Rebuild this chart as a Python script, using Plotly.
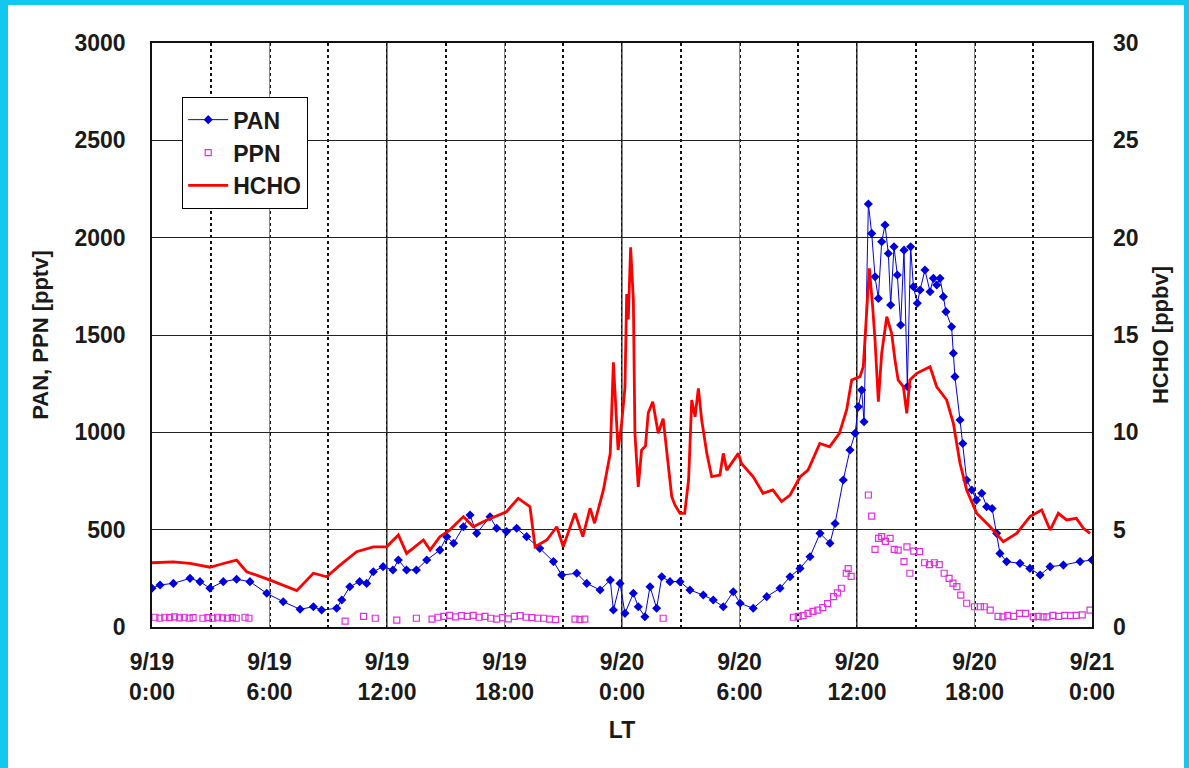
import plotly.graph_objects as go

# ---------------- data (hours after 9/19 0:00 LT) ----------------
hcho_hours = [
    0, 1.09, 1.94, 2.96, 3.6, 4.32, 4.83, 6.03, 7.39, 8.24,
    8.92, 9.6, 10.45, 11.3, 11.98, 12.58, 13.0, 13.86, 14.2, 14.7,
    15.2, 15.9, 16.4, 17.1, 18.1, 18.7, 19.3, 19.56, 20.16, 20.67,
    21.0, 21.6, 22.0, 22.37, 22.6, 23.05, 23.4, 23.56, 23.8, 23.98,
    24.15, 24.24, 24.32, 24.44, 24.58, 24.66, 24.83, 25.0, 25.2, 25.34,
    25.57, 25.85, 26.1, 26.28, 26.54, 26.7, 26.96, 27.2, 27.4, 27.56,
    27.73, 27.9, 28.07, 28.33, 28.58, 29.0, 29.17, 29.35, 29.94, 30.1,
    30.7, 31.2, 31.7, 32.15, 32.58, 33.1, 33.5, 34.1, 34.6, 35.1,
    35.47, 35.73, 36.15, 36.32, 36.5, 36.63, 36.8, 36.92, 37.09, 37.26,
    37.52, 37.77, 37.94, 38.1, 38.37, 38.54, 38.7, 39.05, 39.73, 40.07,
    40.58, 40.92, 41.26, 41.6, 42.11, 42.8, 43.47, 44.15, 44.83, 45.43,
    45.86, 46.28, 46.7, 47.2, 47.56, 47.9,
]
hcho_ppbv = [
    3.3, 3.35, 3.27, 3.07, 3.25, 3.44, 2.84, 2.41, 1.87, 2.76,
    2.58, 3.18, 3.87, 4.12, 4.12, 4.73, 3.78, 4.47, 3.95, 4.64,
    4.98, 5.67, 5.15, 5.5, 5.92, 6.61, 6.18, 4.12, 4.47, 5.15,
    4.12, 5.84, 4.64, 6.1, 5.33, 7.04, 8.92, 13.6, 9.09, 10.46,
    12.3, 17.1, 15.8, 19.5, 16.8, 9.95, 7.2, 9.09, 9.3, 11.0,
    11.57, 9.95, 10.7, 8.92, 6.69, 6.27, 5.84, 5.84, 7.55, 11.66,
    10.8, 12.26, 10.63, 8.92, 7.72, 7.8, 8.92, 8.06, 8.92, 8.4,
    7.72, 6.87, 7.04, 6.44, 6.78, 7.72, 8.06, 9.43, 9.26, 9.95,
    11.15, 12.69, 12.86, 13.37, 16.28, 18.42, 16.45, 14.74, 11.57, 14.06,
    15.94, 15.08, 13.71, 12.69, 12.34, 10.97, 12.69, 13.03, 13.37, 12.34,
    11.66, 10.46, 8.41, 7.04, 5.84, 5.15, 4.38, 4.81, 5.67, 6.01,
    4.98, 5.84, 5.5, 5.58, 5.07, 4.81,
]

pan_hours = [
    0, 0.41, 1.09, 1.94, 2.45, 2.96, 3.64, 4.32, 5.0, 5.86,
    6.7, 7.56, 8.24, 8.66, 9.43, 9.69, 10.1, 10.6, 10.96, 11.3,
    11.8, 12.3, 12.58, 13.0, 13.5, 14.03, 14.7, 15.05, 15.4, 15.9,
    16.24, 16.58, 17.26, 17.6, 18.1, 18.62, 19.13, 19.8, 20.5, 20.92,
    21.69, 22.2, 22.88, 23.4, 23.56, 23.9, 24.15, 24.58, 24.83, 25.17,
    25.43, 25.77, 26.03, 26.45, 26.96, 27.47, 28.15, 28.66, 29.17, 29.68,
    30.03, 30.7, 31.39, 32.07, 32.58, 33.09, 33.6, 34.11, 34.62, 34.88,
    35.3, 35.64, 35.9, 36.07, 36.24, 36.36, 36.58, 36.75, 36.92, 37.09,
    37.26, 37.43, 37.6, 37.72, 37.89, 38.06, 38.23, 38.4, 38.57, 38.74,
    38.88, 39.08, 39.22, 39.47, 39.73, 39.9, 40.07, 40.24, 40.41, 40.54,
    40.83, 40.92, 41.0, 41.26, 41.4, 41.6, 41.86, 42.1, 42.37, 42.62,
    42.9, 43.13, 43.3, 43.64, 44.32, 44.83, 45.35, 45.86, 46.54, 47.39,
    48,
]
pan_pptv = [
    199, 216, 224, 250, 233, 199, 233, 245, 233, 173,
    130, 91, 104, 87, 96, 139, 207, 233, 224, 284,
    310, 293, 344, 293, 293, 344, 395, 464, 430, 515,
    575, 481, 566, 507, 490, 507, 464, 404, 336, 267,
    276, 224, 190, 241, 87, 224, 70, 173, 104, 53,
    207, 96, 258, 233, 233, 190, 164, 139, 104, 181,
    122, 96, 156, 199, 258, 301, 361, 481, 430, 532,
    755, 909, 995, 1131, 1217, 1054, 2173, 2022, 1799, 1688,
    1979, 2065, 1919, 1654, 1953, 1808, 1551, 1936, 1234, 1953,
    1748, 1663, 1731, 1834, 1722, 1791, 1757, 1791, 1697, 1620,
    1542, 1406, 1286, 1063, 943, 755, 704, 652, 687, 618,
    609, 481, 378, 336, 327, 301, 267, 310, 318, 336,
    344,
]

ppn_hours = [
    0.15, 0.4, 0.65, 0.9, 1.15, 1.4, 1.65, 1.9, 2.1, 2.6,
    2.85, 3.1, 3.35, 3.6, 3.85, 4.1, 4.3, 4.75, 4.95, 9.86,
    10.8, 11.4, 12.5, 13.5, 14.3, 14.6, 14.9, 15.2, 15.5, 15.8,
    16.1, 16.4, 16.7, 17.0, 17.3, 17.6, 17.9, 18.2, 18.5, 18.8,
    19.1, 19.4, 19.7, 20.0, 20.3, 20.6, 21.6, 21.85, 22.1, 26.1,
    32.75, 33.0, 33.25, 33.5, 33.75, 34.0, 34.25, 34.5, 34.8, 35.0,
    35.2, 35.45, 35.55, 35.7, 36.58, 36.75, 36.92, 37.1, 37.26, 37.45,
    37.69, 37.9, 38.1, 38.4, 38.55, 38.7, 38.9, 39.2, 39.45, 39.7,
    39.95, 40.2, 40.45, 40.7, 40.9, 41.1, 41.3, 41.6, 42.0, 42.3,
    42.5, 42.8, 43.2, 43.45, 43.7, 44.0, 44.3, 44.6, 45.0, 45.25,
    45.5, 45.7, 46.0, 46.3, 46.6, 46.9, 47.2, 47.5, 47.9,
]
ppn_pptv = [
    50, 45, 50, 48, 52, 47, 50, 45, 48, 45,
    48, 45, 50, 47, 45, 48, 45, 50, 45, 30,
    55, 45, 35, 45, 40, 50, 55, 60, 52, 58,
    55, 60, 50, 55, 45, 40, 48, 42, 55, 58,
    50, 48, 45, 45, 40, 38, 40, 38, 40, 45,
    50, 55, 58, 70, 80, 87, 100, 120, 156, 175,
    199, 276, 300, 260, 678, 570, 399, 455, 464, 440,
    455, 399, 395, 336, 412, 276, 390, 387, 330, 320,
    330, 320, 276, 250, 225, 207, 164, 122, 104, 104,
    104, 87, 55, 52, 60, 55, 70, 70, 52, 55,
    52, 52, 60, 55, 60, 58, 60, 62, 87,
]

tick_hours = [0, 6, 12, 18, 24, 30, 36, 42, 48]
tick_labels = ["9/19<br>0:00", "9/19<br>6:00", "9/19<br>12:00", "9/19<br>18:00",
               "9/20<br>0:00", "9/20<br>6:00", "9/20<br>12:00", "9/20<br>18:00",
               "9/21<br>0:00"]

# ---------------- figure ----------------
FONT = "Liberation Sans"
INK = "#1a1a1a"
tickfont = dict(family=FONT, size=23, color=INK, weight="bold")
titlefont = dict(family=FONT, size=22, color=INK, weight="bold")

fig = go.Figure()
fig.add_trace(go.Scatter(
    x=pan_hours, y=pan_pptv, name="PAN", mode="lines+markers",
    line=dict(color="#0000E0", width=1),
    marker=dict(symbol="diamond", size=7, color="#0000DD"),
))
fig.add_trace(go.Scatter(
    x=ppn_hours, y=ppn_pptv, name="PPN", mode="markers",
    marker=dict(symbol="square-open", size=6, color="#E030E0", line=dict(width=1.2)),
))
fig.add_trace(go.Scatter(
    x=hcho_hours, y=hcho_ppbv, name="HCHO", mode="lines", yaxis="y2",
    line=dict(color="#FF0000", width=2.8),
))

# heavier black lines at 0:00 and 12:00
shapes = []
for t in tick_hours:
    if t % 12 == 0 and 0 < t < 48:
        shapes.append(dict(type="line", xref="x", yref="paper", x0=t, x1=t, y0=0, y1=1,
                           line=dict(color="#111111", width=1.6), layer="between"))

# cyan frame around the picture
W, H, L, R, T, B = 1189, 768, 152, 97, 43, 141
pw, ph = W - L - R, H - T - B
def px(xp): return (xp - L) / pw
def py(yp): return (H - B - yp) / ph
cyan = "#12C8F0"
for (a, b, c, d) in [(0, 0, 8, H), (0, 0, W, 5), (W - 5, 0, W, H)]:
    shapes.append(dict(type="rect", xref="paper", yref="paper",
                       x0=px(a), x1=px(c), y0=py(d), y1=py(b),
                       fillcolor=cyan, line=dict(width=0), layer="above"))

fig.update_layout(
    width=W, height=H,
    margin=dict(l=L, r=R, t=T, b=B, pad=0),
    paper_bgcolor="white", plot_bgcolor="white",
    font=dict(family=FONT, color=INK),
    shapes=shapes,
    showlegend=True,
    legend=dict(x=px(182), y=py(97), xanchor="left", yanchor="top",
                bgcolor="white", bordercolor="black", borderwidth=1.2,
                font=dict(family=FONT, size=23, color=INK, weight="bold"),
                tracegroupgap=0, itemwidth=40),
    xaxis=dict(
        range=[0, 48], tickmode="array", tickvals=tick_hours, ticktext=tick_labels,
        tickfont=tickfont, ticks="", ticklabelstandoff=14,
        showgrid=True, gridcolor="#888888", gridwidth=1,
        minor=dict(tick0=0, dtick=3, showgrid=True, griddash="dot",
                   gridcolor="#111111", gridwidth=1.5),
        showline=True, linecolor="#111111", linewidth=1.6, mirror=True,
        zeroline=False,
        title=dict(text="LT", font=dict(family=FONT, size=23, color=INK, weight="bold"),
                   standoff=18),
    ),
    yaxis=dict(
        range=[0, 3000], dtick=500, tickfont=tickfont, ticks="", ticklabelstandoff=20,
        showgrid=True, gridcolor="#222222", gridwidth=1.2,
        showline=True, linecolor="#111111", linewidth=1.6, mirror=True,
        zeroline=False,
        title=dict(text="PAN, PPN [pptv]", font=titlefont, standoff=20),
    ),
    yaxis2=dict(
        range=[0, 30], dtick=5, overlaying="y", side="right",
        tickfont=tickfont, ticks="", ticklabelstandoff=20,
        showgrid=False, zeroline=False, showline=False,
        title=dict(text="HCHO [ppbv]", font=titlefont, standoff=14),
    ),
)

fig.write_html("out.html")
